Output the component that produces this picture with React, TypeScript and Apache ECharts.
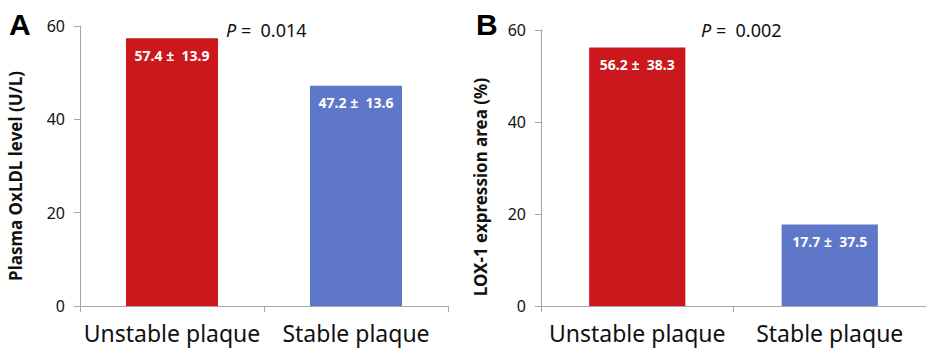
import React, { useEffect, useRef } from "react";
import * as echarts from "echarts";

const categories = ["Unstable plaque", "Stable plaque"];
const oxldlMeans = [57.4, 47.2];
const oxldlSDs = [13.9, 13.6];
const loxMeans = [56.2, 17.7];
const loxSDs = [38.3, 37.5];
const barColors = ["#CA181D", "#5E77C8"];
const yTicks = { min: 0, max: 60, interval: 20 };
const pValues = ["0.014", "0.002"];

const AXIS = "#A6A6A6";

function yAxis(gridIndex: number, name: string, gap: number, shiftDown: number) {
  return {
    type: "value",
    gridIndex,
    min: yTicks.min,
    max: yTicks.max,
    interval: yTicks.interval,
    name,
    nameLocation: "middle",
    nameRotate: 90,
    nameGap: gap,
    nameTextStyle: {
      fontFamily: "Noto Sans",
      fontWeight: "bold",
      fontSize: 17,
      color: "#111",
      padding: [0, shiftDown * 2, 0, 0],
    },
    axisLine: { show: true, lineStyle: { color: AXIS, width: 1 } },
    axisTick: { show: true, length: 6, lineStyle: { color: AXIS } },
    splitLine: { show: false },
    axisLabel: { fontFamily: "Noto Sans", fontSize: 16, color: "#111", margin: 15 },
  };
}

function xAxis(gridIndex: number) {
  return {
    type: "category",
    gridIndex,
    data: categories,
    axisLine: { show: true, lineStyle: { color: AXIS, width: 1 } },
    axisTick: { show: true, length: 6, lineStyle: { color: AXIS } },
    axisLabel: { fontFamily: "Noto Sans", fontSize: 23, color: "#111", margin: 15, interval: 0 },
  };
}

function series(idx: number, means: number[], sds: number[]) {
  return {
    type: "bar",
    xAxisIndex: idx,
    yAxisIndex: idx,
    barWidth: "50%",
    data: means.map((v, i) => ({ value: v, itemStyle: { color: barColors[i] } })),
    label: {
      show: true,
      position: "insideTop",
      distance: 10,
      color: "#fff",
      fontFamily: "Noto Sans",
      fontWeight: "bold",
      fontSize: 14,
      formatter: (p: any) => `${means[p.dataIndex].toFixed(1)} ±  ${sds[p.dataIndex].toFixed(1)}`,
    },
  };
}

function pTitle(text: string, left: number) {
  return {
    text: `{i|P} =  ${text}`,
    left,
    top: 16,
    textStyle: {
      fontFamily: "Noto Sans",
      fontSize: 18,
      fontWeight: "normal",
      color: "#111",
      rich: { i: { fontStyle: "italic", fontFamily: "Noto Sans", fontSize: 18, color: "#111" } },
    },
  };
}

function letterTitle(text: string, left: number) {
  return {
    text,
    left,
    top: 4,
    textStyle: { fontFamily: "Liberation Sans", fontWeight: "bold", fontSize: 30, color: "#000" },
  };
}

export default function App() {
  const ref = useRef<HTMLDivElement>(null);
  useEffect(() => {
    document.body.style.margin = "0";
    const chart = echarts.init(ref.current!, null, { renderer: "svg" });
    chart.setOption({
      animation: false,
      backgroundColor: "#fff",
      grid: [
        { left: 80, top: 26, width: 368, height: 280 },
        { left: 541, top: 30, width: 398, height: 276 },
      ],
      xAxis: [xAxis(0), xAxis(1)],
      yAxis: [
        yAxis(0, "Plasma OxLDL level (U/L)", 56, 10),
        yAxis(1, "LOX-1 expression area (%)", 52, 19),
      ],
      series: [series(0, oxldlMeans, oxldlSDs), series(1, loxMeans, loxSDs)],
      title: [
        letterTitle("A", 4),
        letterTitle("B", 471),
        pTitle(pValues[0], 221),
        pTitle(pValues[1], 696),
      ],
    });
    return () => chart.dispose();
  }, []);
  return <div ref={ref} style={{ width: 926, height: 353 }} />;
}
